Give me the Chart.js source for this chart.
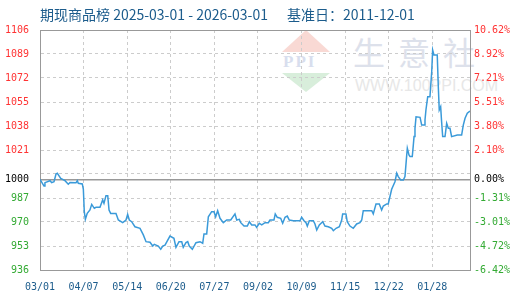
<!DOCTYPE html>
<html>
<head>
<meta charset="utf-8">
<script src="https://cdn.jsdelivr.net/npm/chart.js@4.4.1/dist/chart.umd.min.js"></script>
<style>
  body { margin: 0; background: #fff; }
  #wrap { position: relative; width: 520px; height: 300px; overflow: hidden; }
  #myChart { position: absolute; left: 0; top: 0; }
  .title { position: absolute; top: 4px; font: 14px "Noto Sans CJK SC", sans-serif; color: #1c5c8c; white-space: pre; }
  .wm-cn { position: absolute; left: 353px; top: 28px; font: 32px "Noto Sans CJK SC", sans-serif; color: #dde1eb; letter-spacing: 13px; white-space: nowrap; }
  .wm-en { position: absolute; left: 355px; top: 77px; font: 16px "Liberation Sans", Arial, sans-serif; color: #e7e7e7; white-space: nowrap; }
  .logo-up { position: absolute; left: 282px; top: 30px; width: 0; height: 0; border-left: 24px solid transparent; border-right: 24px solid transparent; border-bottom: 22px solid #f9d9d4; }
  .logo-dn { position: absolute; left: 282px; top: 73px; width: 0; height: 0; border-left: 24px solid transparent; border-right: 24px solid transparent; border-top: 19px solid #d8eedb; }
  .logo-txt { position: absolute; left: 283px; top: 52px; font: bold 17px "Liberation Serif", serif; color: #d8deee; letter-spacing: 2px; }
</style>
</head>
<body>
<div id="wrap">
  <div class="logo-up"></div>
  <div class="logo-txt">PPI</div>
  <div class="logo-dn"></div>
  <div class="wm-cn">生意社</div>
  <div class="wm-en">WWW.100PPI.COM</div>
  <canvas id="myChart" width="520" height="300"></canvas>
  <div class="title" style="left:40px">期现商品榜 2025-03-01 - 2026-03-01</div>
  <div class="title" style="left:287px">基准日：2011-12-01</div>
</div>
<script>
// tick labels for the date axis (days counted from 2025-03-01)
const xTickDays = [0, 37, 74, 111, 148, 185, 222, 259, 296, 333];
const xTickLabels = ['03/01', '04/07', '05/14', '06/20', '07/27', '09/02', '10/09', '11/15', '12/22', '01/28'];

// index series
const days = [
    0, 3.4, 4.2, 8.5, 9.9, 11.9, 13.6, 14.7, 17.6, 21.2, 24.0, 25.5, 30.6, 31.7, 32.5, 35.9,
    36.8, 37.6, 38.5, 40.1, 42.4, 43.9, 46.1, 47.5, 50.9, 53.2, 54.3, 56.0, 57.5, 58.6, 60.0,
    64.5, 66.5, 70.2, 73.0, 74.4, 75.8, 77.8, 80.6, 84.9, 87.7, 90.0, 93.4, 95.7, 97.0, 100.4,
    102.5, 104.2, 106.1, 110.3, 113.7, 115.4, 118.0, 120.3, 121.6, 123.9, 125.4, 126.7, 129.3,
    132.4, 135.8, 138.1, 139.2, 141.5, 142.9, 145.7, 147.7, 149.1, 150.8, 152.8, 155.6, 158.5,
    161.9, 165.5, 167.0, 169.2, 170.4, 173.2, 176.0, 177.7, 179.7, 182.5, 183.9, 186.1, 188.2,
    191.0, 193.8, 195.2, 198.6, 199.7, 201.4, 204.3, 206.0, 208.0, 209.9, 211.6, 215.0, 220.7,
    222.1, 224.1, 225.8, 226.9, 228.6, 232.0, 233.4, 234.9, 237.1, 240.0, 241.9, 244.7, 247.6,
    249.0, 251.3, 254.1, 256.1, 256.9, 259.7, 260.8, 263.1, 265.9, 268.8, 271.6, 273.1, 274.4,
    278.7, 281.6, 282.9, 285.2, 288.0, 290.0, 291.4, 294.3, 295.6, 298.5, 301.3, 302.8, 304.1,
    306.2, 308.4, 309.8, 311.3, 311.8, 313.2, 314.1, 316.0, 316.9, 317.5, 318.3, 319.2, 322.6,
    324.0, 326.0, 326.8, 327.6, 329.1, 331.0, 331.6, 332.5, 333.3, 334.4, 337.2, 338.1, 338.9,
    340.1, 340.9, 341.8, 343.8, 345.2, 346.6, 348.0, 349.4, 354.2, 357.9, 359.3, 360.8, 362.7, 365.0
];
const prices = [
    1000.2, 995.4, 997.8, 999.2, 997.8, 998.5, 1004, 1004.5, 1000.9, 999.2, 996.7, 998, 997.8, 999.2, 997.4, 996.9,
    993.1, 977.2, 971.8, 976, 978.4, 982.4, 979.6, 980.3, 980.3, 985.5, 983.1, 988.6, 988.6, 978.4, 976,
    976, 971.3, 969.4, 971.3, 975.3, 971.3, 970.1, 966.5, 965.4, 960.7, 955.9, 955.5, 952.8, 954, 952.8,
    950.5, 952.8, 953.5, 959.9, 958.3, 951.9, 955.9, 955.9, 951.9, 955.2, 955.9, 952.8, 950.5,
    955.2, 955.9, 954.8, 961.4, 961.4, 973.6, 977.2, 977.2, 973.6, 977.9, 972.5, 969.4, 971.3,
    971.3, 975.6, 971.3, 971.8, 969.4, 967, 967, 970.1, 967.8, 967.8, 966.1, 969, 967.8,
    969.4, 969.4, 971.3, 971.3, 975.6, 973.2, 972.5, 969, 973.2, 974.1, 971.3, 970.8, 970.8,
    973.2, 970.8, 969.4, 967, 970.8, 970.8, 968.5, 964.2, 967.8, 970.1, 967, 966.5, 965.4,
    963.7, 965.4, 966.5, 971.3, 975.6, 975.6, 970.1, 967, 965.4, 968.5, 969.4, 971.3, 977.9,
    977.9, 977.9, 975.6, 982.7, 982.7, 978.4, 981.2, 982.7, 982.7, 993.1, 998.5, 1004.5, 1002.1,
    999.7, 999.7, 1002.1, 1017.5, 1022.2, 1017.5, 1016.3, 1016.3, 1024.6, 1030.5, 1036.4, 1044.6, 1044.2,
    1038.7, 1038.7, 1042.3, 1049.4, 1058.8, 1058.8, 1065.9, 1076.6, 1092, 1088.5, 1088.5, 1065.9, 1049.4,
    1051.7, 1041.1, 1030.5, 1030.5, 1039.9, 1036.4, 1036.4, 1030.5, 1031.6, 1031.6, 1038.7, 1043.5, 1047.1, 1048.7
];

const baseValue = 1000;
const yMin = 935.8;
const yMax = 1106.2;
const ySteps = 10;

const RED = '#ff3333';
const GREEN = '#33aa33';
const GRID = '#cccccc';
const FRAME = '#999999';
const tickFont = { family: 'DejaVu Sans Mono', size: 10 };

function buildYTicks(scale) {
    const step = (yMax - yMin) / ySteps;
    const ticks = [];
    for (let i = 0; i <= ySteps; i++) {
        ticks.push({ value: yMin + step * i });
    }
    ticks.push({ value: baseValue });
    ticks.sort((a, b) => a.value - b.value);
    scale.ticks = ticks;
}

function isBase(v) {
    return Math.abs(v - baseValue) < 0.001;
}

function isHidden(v) {
    // the regular tick next to the base line carries no label
    return !isBase(v) && Math.abs(v - baseValue) < (yMax - yMin) / ySteps / 2;
}

function labelColor(ctx) {
    const v = ctx.tick.value;
    if (isBase(v)) return '#000000';
    return v > baseValue ? RED : GREEN;
}

const points = days.map((d, i) => ({ x: d, y: prices[i] }));

const config = {
    type: 'line',
    data: {
        datasets: [{
            label: '期现商品榜',
            data: points,
            borderColor: '#3a9ad9',
            borderWidth: 1.5,
            pointRadius: 0,
            tension: 0,
            fill: false
        }]
    },
    options: {
        responsive: false,
        animation: false,
        layout: { padding: { top: 30, left: 0, right: 0, bottom: 0 } },
        plugins: {
            legend: { display: false },
            tooltip: { enabled: false }
        },
        scales: {
            x: {
                type: 'linear',
                min: 0,
                max: 365,
                afterBuildTicks: (scale) => {
                    scale.ticks = xTickDays.map(d => ({ value: d }));
                },
                afterFit: (scale) => { scale.height = 30; },
                ticks: {
                    autoSkip: false,
                    maxRotation: 0,
                    padding: 11,
                    color: '#1c5c8c',
                    font: tickFont,
                    callback: (v) => xTickLabels[xTickDays.indexOf(v)]
                },
                grid: { color: GRID, lineWidth: 1, drawTicks: false },
                border: { color: FRAME, width: 1, dash: [3, 3] }
            },
            xTop: {
                type: 'linear',
                position: 'top',
                min: 0,
                max: 365,
                afterFit: (scale) => { scale.height = 0; },
                ticks: { display: false },
                grid: { display: false, drawTicks: false },
                border: { color: FRAME, width: 1 }
            },
            y: {
                type: 'linear',
                position: 'left',
                min: yMin,
                max: yMax,
                afterBuildTicks: buildYTicks,
                afterFit: (scale) => { scale.width = 40; },
                ticks: {
                    autoSkip: false,
                    padding: 11,
                    font: tickFont,
                    color: labelColor,
                    callback: (v) => {
                        if (isBase(v)) return String(baseValue);
                        if (isHidden(v)) return '';
                        return String(Math.round(v));
                    }
                },
                grid: {
                    drawTicks: false,
                    color: (ctx) => (ctx.tick && isBase(ctx.tick.value)) ? FRAME : GRID,
                    lineWidth: (ctx) => (ctx.tick && isBase(ctx.tick.value)) ? 1.5 : 1
                },
                border: {
                    color: FRAME,
                    width: 1,
                    dash: (ctx) => (ctx.tick && isBase(ctx.tick.value)) ? [] : [3, 3]
                }
            },
            y2: {
                type: 'linear',
                position: 'right',
                min: yMin,
                max: yMax,
                afterBuildTicks: buildYTicks,
                afterFit: (scale) => { scale.width = 50; },
                ticks: {
                    autoSkip: false,
                    padding: 4,
                    font: tickFont,
                    color: labelColor,
                    callback: (v) => {
                        if (isHidden(v)) return '';
                        return ((v - baseValue) / baseValue * 100).toFixed(2) + '%';
                    }
                },
                grid: { display: false, drawTicks: false },
                border: { color: FRAME, width: 1 }
            }
        }
    }
};

const myChart = new Chart(document.getElementById('myChart'), config);
</script>
</body>
</html>
